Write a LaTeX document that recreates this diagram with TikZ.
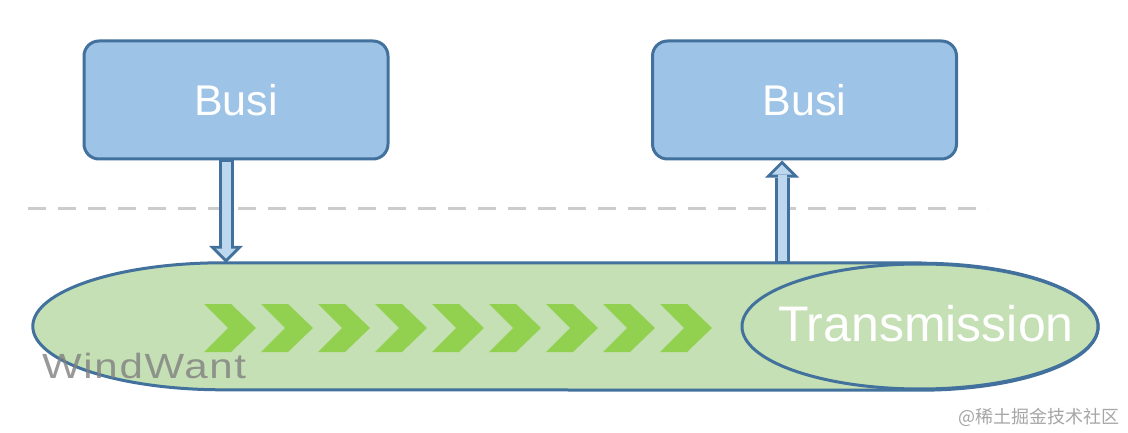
\documentclass[tikz,border=0pt]{standalone}
\usepackage{fontspec}
\setmainfont{Liberation Sans}
\newfontfamily\cjkfont{Noto Sans CJK SC}
\newfontfamily\markfont[LetterSpace=4]{Liberation Sans}
\usepackage{xcolor}
\usetikzlibrary{arrows.meta}
\usetikzlibrary{shapes.geometric,positioning}

\definecolor{edgeblue}{HTML}{41719C}
\definecolor{busifill}{HTML}{9DC3E6}
\definecolor{arrowfill}{HTML}{BDD7EE}
\definecolor{chanfill}{HTML}{C5E0B4}
\definecolor{chevgreen}{HTML}{92D050}
\definecolor{sepgray}{HTML}{CCCCCC}

\begin{document}
\begin{tikzpicture}[x=1pt,y=1pt]
  \tikzset{busi/.style = {shape=rectangle,draw=edgeblue,fill=busifill,line width=3pt,rounded corners=15pt,minimum width=304pt,minimum height=118pt,text=white,font=\fontsize{43}{50}\selectfont}}
  \tikzset{chanline/.style = {draw=edgeblue,fill=chanfill,line width=3pt}}
  \tikzset{transell/.style = {shape=ellipse,draw=edgeblue,fill=chanfill,line width=3pt,minimum width=356pt,minimum height=125pt,inner sep=0pt}}
  \tikzset{transtext/.style = {text=white,inner sep=0pt,font=\fontsize{50}{58}\selectfont}}
  \tikzset{chevron/.style = {fill=chevgreen}}
  \tikzset{sepline/.style = {draw=sepgray,line width=3pt,dash pattern=on 18pt off 12pt}}
  \tikzset{%
  hollowarrow/.style = {draw=edgeblue,line width=15pt,-{Triangle[width=34pt,length=17pt,line width=0pt]},
    postaction={draw=arrowfill,line width=9pt,-{Triangle[width=20pt,length=10pt,line width=0pt]},shorten >=4.2pt,shorten <=1.5pt}},
}

  \path[use as bounding box,fill=white] (0,0) rectangle (1128,432);

	\coordinate (sepW) at (28,224);
	\coordinate (sepE) at (988,224);
	\draw[sepline] (sepW) -- (sepE);

	% channel
	\node[inner sep=0pt,minimum width=697pt,minimum height=127pt] (chan) at (571.5,105.5) {};
	\draw[chanline] (chan.north east) -- (chan.north west)
	  arc[start angle=90,end angle=270,x radius=190,y radius=63.5] -- (chan.south east)
	  arc[start angle=-90,end angle=90,x radius=178,y radius=63.5] -- cycle;

    \foreach \i in {0,...,8}
    \fill[chevron] ({204+57*\i},128) -- ++(27,0) -- ++(25,-24) -- ++(-25,-24) -- ++(-27,0) -- ++(24,24) -- cycle;

	\node[transell] (trans) at (920,105.5) {};
	\node[transtext] (transLbl) at ([xshift=6pt,yshift=3pt]trans.center) {Transmission};

	\node[busi] (busiL) at (236,332) {Busi};
	\node[busi] (busiR) at (804.5,332) {Busi};

	\coordinate (inTop) at ([xshift=-10pt]busiL.south);
	\coordinate (inEnd) at (inTop |- chan.north);
	\coordinate (outTop) at ([xshift=-22.5pt]busiR.south);
	\coordinate (outBase) at (outTop |- chan.north);

    \foreach \from/\to in {inTop/inEnd, outBase/outTop}
    \draw[hollowarrow] (\from) -- (\to);

	\node[anchor=base west,inner sep=0pt,text=black!50,opacity=0.8,font=\markfont\fontsize{35}{40}\selectfont] (mark) at (42,54) {\scalebox{1.2}[1]{WindWant}};
	\node[anchor=east,inner sep=0pt,text=black!35,font=\cjkfont\fontsize{18}{20}\selectfont] (site) at (1120,14.5) {@稀土掘金技术社区};

\end{tikzpicture}
\end{document}
